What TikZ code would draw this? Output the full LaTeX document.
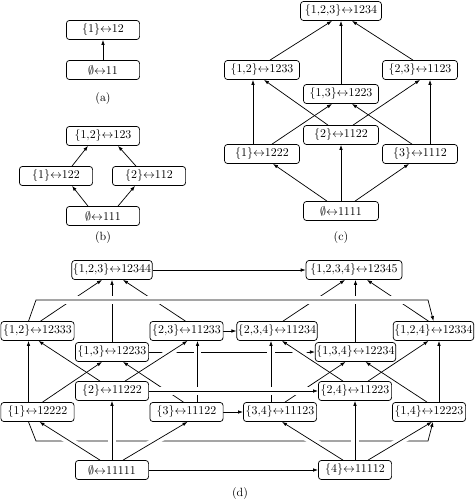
\documentclass[tikz,border=0pt]{standalone}
\usetikzlibrary{arrows.meta,calc,backgrounds}
\newcommand{\myarr}{{\leftrightarrow}}
\newcommand{\cm}{{,}}
\begin{document}
\begin{tikzpicture}[x=0.84pt,y=-0.84pt,
  box/.style={draw, rounded corners=2.5pt, line width=0.6pt, fill=white, minimum width=61.5pt, minimum height=16pt, inner xsep=1pt, inner ysep=1.5pt},
  boxc/.style={box, minimum width=63pt},
  boxt/.style={box, minimum width=67pt},
  edge/.style={line width=0.6pt, -{Latex[length=4.2pt,width=3pt]}},
  gap/.style={preaction={draw=white, line width=6.5pt, -, shorten <=4pt, shorten >=4pt}}]
\path[use as bounding box] (0,0) rectangle (475,503);

% (a)
\node[box] (a1) at (103,30) {$\{1\}\myarr 12$};
\node[box] (a0) at (103,70) {$\emptyset\myarr 11$};
\node (la) at (103,99) {(a)};

% (b)
\node[box] (b12) at (103,136) {$\{1\cm 2\}\myarr 123$};
\node[box] (b1) at (56,176) {$\{1\}\myarr 122$};
\node[box] (b2) at (149,176) {$\{2\}\myarr 112$};
\node[box] (b0) at (103,216) {$\emptyset\myarr 111$};
\node (lb) at (103,238) {(b)};

% (c)
\node[boxc, minimum width=68pt] (c123) at (341,11) {$\{1\cm 2\cm 3\}\myarr 1234$};
\node[boxc] (c12) at (262,70) {$\{1\cm 2\}\myarr 1233$};
\node[boxc] (c23) at (420,70) {$\{2\cm 3\}\myarr 1123$};
\node[boxc] (c13) at (341,94) {$\{1\cm 3\}\myarr 1223$};
\node[boxc] (c2) at (341,135) {$\{2\}\myarr 1122$};
\node[boxc] (c1) at (262,154) {$\{1\}\myarr 1222$};
\node[boxc] (c3) at (420,154) {$\{3\}\myarr 1112$};
\node[boxc] (c0) at (341,211) {$\emptyset\myarr 1111$};
\node (lc) at (341,238) {(c)};

% (d) left cube
\node[boxt, minimum width=66.4pt] (d123) at (112,270) {$\{1\cm 2\cm 3\}\myarr 12344$};
\node[box] (d12) at (37.5,331) {$\{1\cm 2\}\myarr 12333$};
\node[box] (d23) at (186.5,331) {$\{2\cm 3\}\myarr 11233$};
\node[box] (d13) at (112,352) {$\{1\cm 3\}\myarr 12233$};
\node[box] (d2) at (112,391) {$\{2\}\myarr 11222$};
\node[box] (d1) at (37.5,412) {$\{1\}\myarr 12222$};
\node[box] (d3) at (186.5,412) {$\{3\}\myarr 11122$};
\node[box] (d0) at (112,470) {$\emptyset\myarr 11111$};
% (d) right cube
\node[box, minimum width=80.5pt] (d1234) at (354,270) {$\{1\cm 2\cm 3\cm 4\}\myarr 12345$};
\node[boxt] (d124) at (433.5,331) {$\{1\cm 2\cm 4\}\myarr 12334$};
\node[boxt] (d234) at (277,331) {$\{2\cm 3\cm 4\}\myarr 11234$};
\node[boxt] (d134) at (355.5,352) {$\{1\cm 3\cm 4\}\myarr 12234$};
\node[box] (d24) at (355,391) {$\{2\cm 4\}\myarr 11223$};
\node[box] (d14) at (429,412) {$\{1\cm 4\}\myarr 12223$};
\node[box] (d34) at (280,412) {$\{3\cm 4\}\myarr 11123$};
\node[box] (d4) at (355,470) {$\{4\}\myarr 11112$};
\node (ld) at (240,494) {(d)};

\coordinate (tl) at (36,300);
\coordinate (tr) at (428,300);
\coordinate (bl) at (36,441);
\coordinate (br) at (428,441);

\begin{scope}[on background layer]
% (a)
\draw[edge] (a0) -- (a1);
% (b)
\draw[edge] ($(b0.north)+(-15,0)$) -- ($(b1.south)+(16,0)$);
\draw[edge] ($(b0.north)+(15,0)$) -- ($(b2.south)+(-14,0)$);
\draw[edge] ($(b1.north)+(16,0)$) -- ($(b12.south)+(-15,0)$);
\draw[edge] ($(b2.north)+(-13,0)$) -- ($(b12.south)+(15,0)$);
% (c)
\draw[edge] ($(c0.north)+(-14,0)$) -- ($(c1.south)+(11,0)$);
\draw[edge] (c0) -- (c2);
\draw[edge] ($(c0.north)+(14,0)$) -- ($(c3.south)+(-11,0)$);
\draw[edge] ($(c1.north)+(-9,0)$) -- ($(c12.south)+(-9,0)$);
\draw[edge] ($(c1.north)+(10,0)$) -- ($(c13.south)+(-9,0)$);
\draw[edge] ($(c2.north)+(-13,0)$) -- ($(c12.south)+(2,0)$);
\draw[edge] ($(c2.north)+(12,0)$) -- (c23.south);
\draw[edge] ($(c3.north)+(-8,0)$) -- ($(c13.south)+(11,0)$);
\draw[edge] ($(c3.north)+(10,0)$) -- ($(c23.south)+(10,0)$);
\draw[edge] ($(c12.north)+(8,0)$) -- ($(c123.south)+(-9,0)$);
\draw[edge] (c13) -- (c123);
\draw[edge] ($(c23.north)+(-7,0)$) -- ($(c123.south)+(11,0)$);

% (d) lines passing underneath
\draw[edge] (d13) -- (d134);
\draw[edge] ($(d1.south)+(-9,0)$) -- (bl) -- (br) -- ($(d14.south)+(4,0)$);
% edges crossing over them
\draw[edge,gap] ($(d0.north)+(-12,0)$) -- ($(d1.south)+(2,0)$);
\draw[edge,gap] (d0) -- (d2);
\draw[edge,gap] ($(d0.north)+(11,0)$) -- ($(d3.south)+(1,0)$);
\draw[edge,gap] ($(d4.north)+(13,0)$) -- ($(d14.south)+(3,0)$);
\draw[edge,gap] (d4) -- (d24);
\draw[edge,gap] ($(d4.north)+(-12,0)$) -- ($(d34.south)+(2,0)$);
\draw[edge,gap] ($(d2.north)+(13,0)$) -- ($(d23.south)+(1,0)$);
\draw[edge,gap] ($(d3.north)+(11,0)$) -- ($(d23.south)+(11,0)$);
\draw[edge,gap] ($(d34.north)+(-9,0)$) -- ($(d234.south)+(-6,0)$);
\draw[edge,gap] ($(d24.north)+(-12,0)$) -- ($(d234.south)+(5,0)$);
% other edges
\draw[edge] ($(d1.north)+(-9,0)$) -- ($(d12.south)+(-9,0)$);
\draw[edge] ($(d1.north)+(5,0)$) -- ($(d13.south)+(-10,0)$);
\draw[edge] ($(d2.north)+(-12,0)$) -- ($(d12.south)+(1,0)$);
\draw[edge] ($(d3.north)+(-3,0)$) -- ($(d13.south)+(11,0)$);
\draw[edge] ($(d12.north)+(3,0)$) -- ($(d123.south)+(-10,0)$);
\draw[edge] (d13) -- (d123);
\draw[edge] ($(d23.north)+(-1,0)$) -- ($(d123.south)+(11,0)$);
\draw[edge] ($(d14.north)+(10,0)$) -- ($(d124.south)+(5.5,0)$);
\draw[edge] ($(d14.north)+(-2,0)$) -- ($(d134.south)+(10,0)$);
\draw[edge] ($(d34.north)+(5,0)$) -- ($(d134.south)+(-10,0)$);
\draw[edge] ($(d24.north)+(13,0)$) -- ($(d124.south)+(-5,0)$);
\draw[edge] ($(d124.north)+(-5,0)$) -- ($(d1234.south)+(13,0)$);
\draw[edge] (d134.north) -- (d134.north |- d1234.south);
\draw[edge] ($(d234.north)+(6,0)$) -- ($(d1234.south)+(-9,0)$);
\draw[edge] (d123) -- (d1234);
\draw[edge] (d23) -- (d234);
\draw[edge] (d3) -- (d34);
\draw[edge] (d0) -- (d4);
% lines passing over
\draw[edge,gap] ($(d12.north)+(-9,0)$) -- (tl) -- (tr) -- (d124.north);
\draw[edge,gap] (d2) -- (d24);
\end{scope}
\end{tikzpicture}
\end{document}
